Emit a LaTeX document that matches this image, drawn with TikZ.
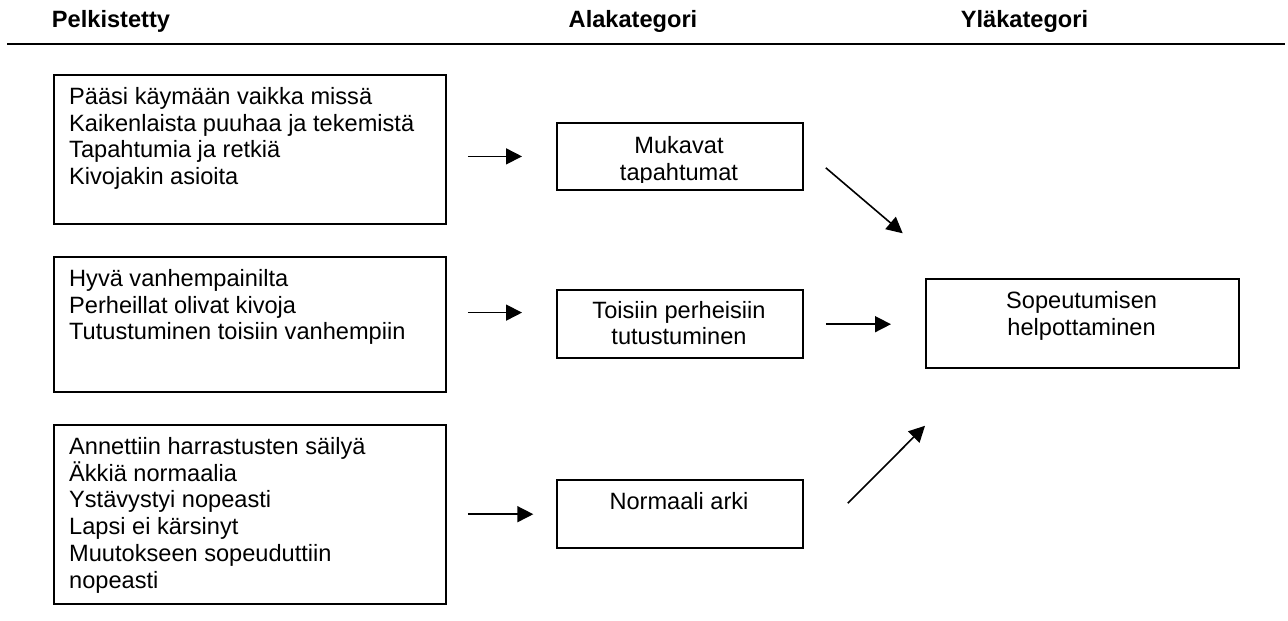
\documentclass[tikz,border=0pt]{standalone}
\usepackage{fontspec}
\setmainfont{Liberation Sans}
\usetikzlibrary{arrows.meta}

\begin{document}
\begin{tikzpicture}[x=1pt,y=1pt,
  box/.style={draw=black, line width=1.8pt, inner sep=0pt, anchor=north west},
  % multi-line texts are placed by the baseline of their last line
  body/.style={font=\fontsize{23.6}{26.7}\selectfont, inner sep=0pt, align=left, anchor=base west},
  mid/.style={font=\fontsize{23.6}{26.7}\selectfont, inner sep=0pt, align=center, anchor=base},
  head/.style={font=\bfseries\fontsize{23.6}{26.7}\selectfont, inner sep=0pt, anchor=base},
  arr/.style={line width=1.6pt, -{Triangle[length=16pt,width=16pt]}},
  rule/.style={line width=2.5pt},
]
\useasboundingbox (0,0) rectangle (1288,-621);

% column headings and the rule beneath them
\node[head] (h1) at (111,-27.5) {Pelkistetty};
\node[head] (h2) at (633,-27.5) {Alakategori};
\node[head] (h3) at (1024.5,-27.5) {Yläkategori};
\coordinate (ruleL) at (7,-44);
\coordinate (ruleR) at (1285,-44);
\draw[rule] (ruleL) -- (ruleR);

% reduced expressions
\node[box, minimum width=392pt, minimum height=149pt] (p1) at (53,-74) {};
\node[box, minimum width=392pt, minimum height=134.7pt] (p2) at (53,-256) {};
\node[box, minimum width=392pt, minimum height=179.3pt] (p3) at (53,-424) {};
\node[body] (p1t) at (69,-184.6) {Pääsi käymään vaikka missä\\Kaikenlaista puuhaa ja tekemistä\\Tapahtumia ja retkiä\\Kivojakin asioita};
\node[body] (p2t) at (69,-339.9) {Hyvä vanhempainilta\\Perheillat olivat kivoja\\Tutustuminen toisiin vanhempiin};
\node[body] (p3t) at (69,-588) {Annettiin harrastusten säilyä\\Äkkiä normaalia\\Ystävystyi nopeasti\\Lapsi ei kärsinyt\\Muutokseen sopeuduttiin\\nopeasti};

% subcategories
\node[box, minimum width=246pt, minimum height=67.6pt] (m1) at (556,-121.7) {};
\node[box, minimum width=246pt, minimum height=68pt] (m2) at (556,-289.3) {};
\node[box, minimum width=246pt, minimum height=68pt] (m3) at (556,-479.3) {};
\begin{scope}
  \clip (556,-121.7) rectangle (802,-182);
  \node[mid] (m1t) at (679,-180.2) {Mukavat\\tapahtumat};
\end{scope}
\node[mid] (m2t) at (679,-344.7) {Toisiin perheisiin\\tutustuminen};
\node[mid] (m3t) at (679,-509) {Normaali arki};

% main category
\node[box, minimum width=313.3pt, minimum height=89pt] (y1) at (925,-278.3) {};
\node[mid] (y1t) at (1081.6,-335.2) {Sopeutumisen\\helpottaminen};

% connectors
\draw[arr] ([xshift=21pt]p1.east |- m1.west) -- ([xshift=-34pt]m1.west);
\draw[arr] ([xshift=21pt,yshift=11.6pt]p2.east |- m2.west) -- ([xshift=-34pt,yshift=11.6pt]m2.west);
\draw[arr] ([xshift=21pt]p3.east |- m3.west) -- ([xshift=-22.7pt]m3.west);
\draw[arr] ([xshift=22pt]m2.east) -- ([xshift=-34pt]y1.west |- m2.east);
\draw[arr] ([xshift=22pt,yshift=23.3pt]m1.south east) -- ([xshift=-22.3pt,yshift=45pt]y1.north west);
\draw[arr] ([xshift=44pt,yshift=11pt]m3.east) -- ([yshift=-56.7pt]y1.south west);
\end{tikzpicture}
\end{document}
